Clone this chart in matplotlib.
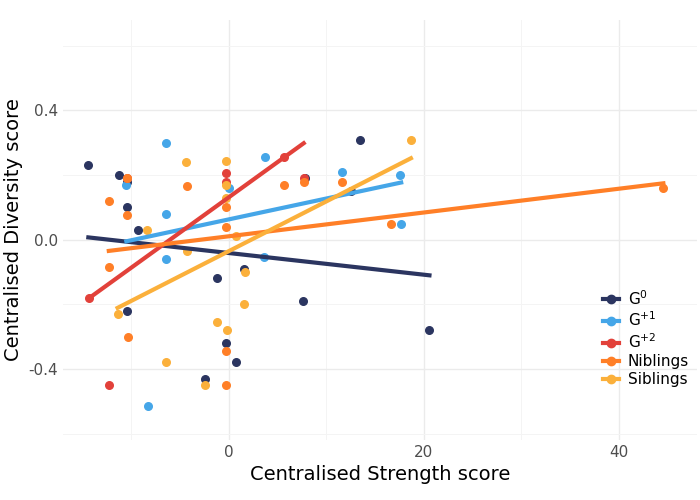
import numpy as np
import matplotlib.pyplot as plt
from matplotlib.ticker import MultipleLocator
from matplotlib.lines import Line2D

g0_x = [-14.4, -11.3, -10.4, -10.4, -9.3, -10.4, -1.2, -0.3, 0.7, -2.4, 1.6, 7.6, 7.8, 12.6, 13.5, 20.6]
g0_y = [0.23, 0.20, 0.18, 0.10, 0.03, -0.22, -0.12, -0.32, -0.38, -0.43, -0.09, -0.19, 0.19, 0.15, 0.31, -0.28]
g1_x = [-6.4, -10.5, -6.4, -6.4, 3.7, 0.0, 3.6, 11.6, 17.6, 17.7, -8.3]
g1_y = [0.30, 0.17, 0.08, -0.06, 0.255, 0.16, -0.055, 0.21, 0.20, 0.05, -0.515]
g2_x = [-14.3, -12.3, -0.3, -0.3, 5.7, 7.7, -10.4]
g2_y = [-0.18, -0.45, 0.205, 0.18, 0.255, 0.19, 0.19]
nib_x = [-10.4, -12.3, -10.4, -12.3, -10.3, -4.3, -0.3, -0.3, -0.3, -0.3, 5.7, 11.6, 16.7, 44.6, 7.7]
nib_y = [0.19, 0.12, 0.075, -0.085, -0.30, 0.165, 0.10, 0.04, -0.345, -0.45, 0.17, 0.18, 0.05, 0.16, 0.18]
sib_x = [-4.4, -0.3, -0.3, -0.3, -8.4, -4.3, -11.4, -6.4, -1.2, -0.2, -2.4, 1.7, 1.6, 0.7, 18.7]
sib_y = [0.24, 0.245, 0.17, 0.13, 0.03, -0.035, -0.23, -0.38, -0.255, -0.28, -0.45, -0.10, -0.20, 0.01, 0.31]

groups = [
    ("G$^{0}$", g0_x, g0_y, "#2b3560"),
    ("G$^{+1}$", g1_x, g1_y, "#45a6e8"),
    ("G$^{+2}$", g2_x, g2_y, "#e2413a"),
    ("Niblings", nib_x, nib_y, "#ff7f27"),
    ("Siblings", sib_x, sib_y, "#fbb03b"),
]

fig, ax = plt.subplots(figsize=(7, 5), dpi=100)
for label, xs, ys, c in groups:
    xs = np.array(xs); ys = np.array(ys)
    ax.scatter(xs, ys, s=30, color=c, zorder=3)
    k, b = np.polyfit(xs, ys, 1)
    xx = np.array([xs.min(), xs.max()])
    ax.plot(xx, k * xx + b, color=c, lw=3, zorder=4)

ax.set_xlim(-17, 48)
ax.set_ylim(-0.62, 0.68)
ax.xaxis.set_major_locator(MultipleLocator(20))
ax.xaxis.set_minor_locator(MultipleLocator(10))
ax.yaxis.set_minor_locator(MultipleLocator(0.2))
ax.set_yticks([-0.4, 0.0, 0.4])
ax.set_yticklabels(["-0.4", "0.0", "0.4"])
ax.grid(which="major", color="#ebebeb", lw=1)
ax.grid(which="minor", color="#f4f4f4", lw=0.7)
ax.set_axisbelow(True)
for s in ax.spines.values():
    s.set_visible(False)
ax.tick_params(which="both", length=0, labelsize=11, colors="#4d4d4d")
ax.set_xlabel("Centralised Strength score", fontsize=14)
ax.set_ylabel("Centralised Diversity score", fontsize=14)

hs = [Line2D([], [], color=g[3], lw=3, marker="o", markersize=6) for g in groups]
ax.legend(hs, [g[0] for g in groups], loc="lower right", bbox_to_anchor=(1.005, 0.1),
          frameon=False, fontsize=11, handlelength=1.0, handletextpad=0.6,
          labelspacing=0.2, borderpad=0.2)

plt.subplots_adjust(left=0.09, right=0.995, top=0.96, bottom=0.12)
plt.savefig("out.png")
